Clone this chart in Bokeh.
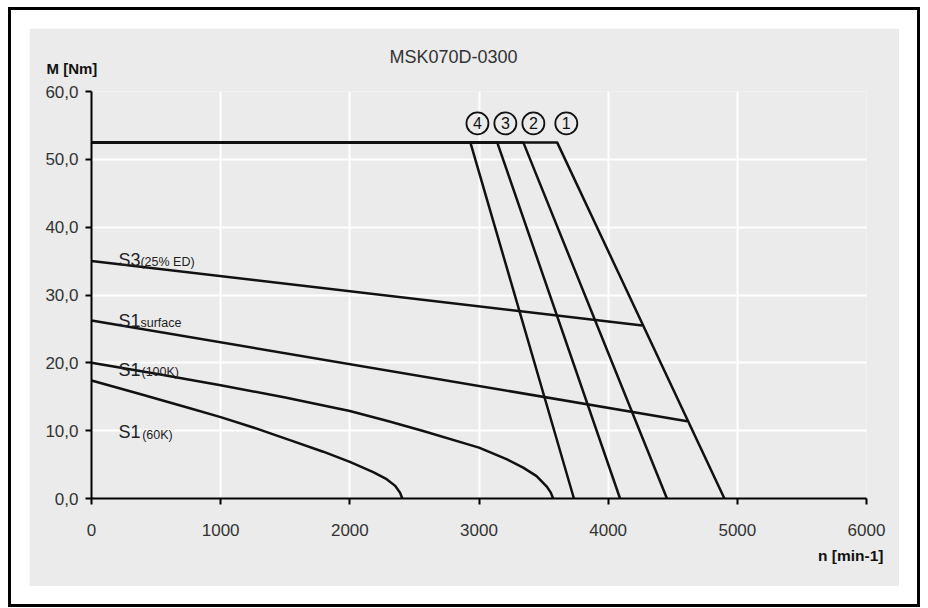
from bokeh.plotting import figure
from bokeh.models import FixedTicker, Title, ColumnDataSource
from bokeh.core.properties import value
from bokeh.embed import file_html
from bokeh.resources import INLINE

FONT = "Liberation Sans"

title = "MSK070D-0300"
y_axis_title = "M [Nm]"
x_axis_title = "n [min-1]"

x_ticks = [0, 1000, 2000, 3000, 4000, 5000, 6000]
x_tick_labels = ["0", "1000", "2000", "3000", "4000", "5000", "6000"]
y_ticks = [0, 10, 20, 30, 40, 50, 60]
y_tick_labels = ["0,0", "10,0", "20,0", "30,0", "40,0", "50,0", "60,0"]

# voltage limit curves (1..4): start speed 0, corner speed, zero-torque speed
peak_torque = 52.5
limit_names = ["1", "2", "3", "4"]
limit_corner_speed = [3605, 3343, 3141, 2933]
limit_end_speed = [4900, 4455, 4092, 3735]

# S3 (25% ED)
s3_speed = [0, 4265]
s3_torque = [35.0, 25.5]

# S1 surface
s1s_speed = [0, 4612]
s1s_torque = [26.25, 11.4]

# S1 (100K)
s1_100_speed = [0, 500, 1000, 1500, 2000, 2300, 2568, 3000, 3213, 3342, 3446, 3523, 3555, 3574]
s1_100_torque = [20.0, 18.4, 16.7, 14.9, 12.9, 11.4, 9.95, 7.5, 5.8, 4.55, 3.3, 1.8, 0.9, 0.0]

# S1 (60K)
s1_60_speed = [0, 375, 762, 1000, 1279, 1536, 1794, 2000, 2181, 2285, 2349, 2388, 2406]
s1_60_torque = [17.4, 15.4, 13.3, 12.0, 10.3, 8.6, 6.9, 5.4, 3.9, 2.85, 1.9, 0.9, 0.0]

# curve label annotations
lab_main = ["S3", "S1", "S1", "S1"]
lab_main_x = [209, 209, 209, 209]
lab_main_y = [35.2, 26.2, 19.0, 9.85]
lab_sub = ["(25% ED)", "surface", "(100K)", "(60K)"]
lab_sub_x = [379, 379, 387, 392]
lab_sub_y = [34.8, 25.8, 18.6, 9.4]

circ_x = [3676, 3421, 3204, 2988]
circ_y = [55.3, 55.3, 55.3, 55.3]

p = figure(width=870, height=558, x_range=(0, 6000), y_range=(0, 60),
           output_backend="svg", toolbar_location=None,
           min_border_left=62, min_border_right=33, min_border_top=63, min_border_bottom=88)
p.margin = (28, 21, 0, 29)
p.styles = {"outline": "3px solid black", "outline-offset": "18px"}
p.background_fill_color = "#ebebeb"
p.border_fill_color = "#ebebeb"
p.outline_line_color = None

p.title.text = title
p.title.align = "left"
p.title.offset = 298
p.title.standoff = -48
p.title.text_font = FONT
p.title.text_font_size = "18px"
p.title.text_font_style = "normal"
p.title.text_color = "#333333"

p.add_layout(Title(text=y_axis_title, align="left", offset=-45, standoff=30, text_font=FONT,
                   text_font_size="15px", text_font_style="bold", text_color="#111111"), "above")
p.add_layout(Title(text=x_axis_title, align="right", offset=-17, standoff=12, text_font=FONT,
                   text_font_size="15.5px", text_font_style="bold", text_color="#111111"), "below")

for ax, ticks, labels in ((p.xaxis, x_ticks, x_tick_labels), (p.yaxis, y_ticks, y_tick_labels)):
    ax.ticker = FixedTicker(ticks=ticks)
    ax.major_label_overrides = dict(zip(ticks, labels))
    ax.axis_line_color = "black"
    ax.axis_line_width = 2
    ax.major_tick_line_color = "black"
    ax.major_tick_line_width = 2
    ax.major_tick_in = 0
    ax.major_tick_out = 6
    ax.minor_tick_line_color = None
    ax.major_label_text_font = FONT
    ax.major_label_text_font_size = "17px"
    ax.major_label_text_color = "#333333"
p.xaxis.major_label_standoff = 19
p.yaxis.major_label_standoff = 7

p.xgrid.ticker = FixedTicker(ticks=x_ticks)
p.ygrid.ticker = FixedTicker(ticks=y_ticks)
p.grid.grid_line_color = "white"
p.grid.grid_line_width = 2

LC = "#111111"
LW = 2.5
for c, e in zip(limit_corner_speed, limit_end_speed):
    p.line([0, c, e], [peak_torque, peak_torque, 0], line_color=LC, line_width=LW)
p.line(s3_speed, s3_torque, line_color=LC, line_width=LW)
p.line(s1s_speed, s1s_torque, line_color=LC, line_width=LW)
p.line(s1_100_speed, s1_100_torque, line_color=LC, line_width=LW, line_join="round")
p.line(s1_60_speed, s1_60_torque, line_color=LC, line_width=LW, line_join="round")

main_src = ColumnDataSource(dict(x=lab_main_x, y=lab_main_y, t=lab_main))
p.text(x="x", y="y", text="t", source=main_src, text_font=value(FONT),
       text_font_size="18px", text_color="#222222", text_baseline="alphabetic")
sub_src = ColumnDataSource(dict(x=lab_sub_x, y=lab_sub_y, t=lab_sub))
p.text(x="x", y="y", text="t", source=sub_src, text_font=value(FONT),
       text_font_size="12.5px", text_color="#222222", text_baseline="alphabetic")

circ_src = ColumnDataSource(dict(x=circ_x, y=circ_y, t=limit_names))
p.scatter(x="x", y="y", source=circ_src, marker="circle", size=22,
          fill_color=None, line_color=LC, line_width=1.8)
p.text(x="x", y="y", text="t", source=circ_src, text_font=value(FONT),
       text_font_size="16px", text_color="#111111", text_align="center",
       text_baseline="middle")

open("out.html", "w").write(file_html(p, INLINE))
